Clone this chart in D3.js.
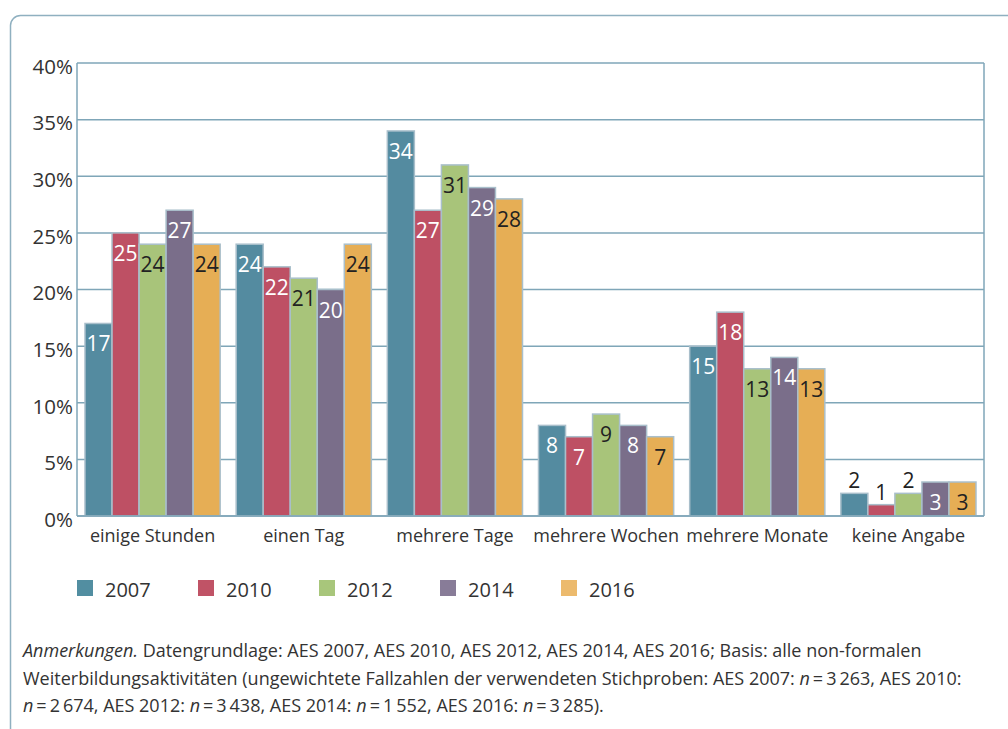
<!DOCTYPE html>
<html>
<head>
<meta charset="utf-8">
<script src="https://cdn.jsdelivr.net/npm/d3@7"></script>
<style>
  body { margin: 0; background: #fff; }
  svg { display: block; font-family: "Open Sans", sans-serif; }
</style>
</head>
<body>
<svg id="chart" width="1008" height="729"></svg>
<script>
const categories = ['einige Stunden', 'einen Tag', 'mehrere Tage', 'mehrere Wochen', 'mehrere Monate', 'keine Angabe'];
const years = ['2007', '2010', '2012', '2014', '2016'];
const values2007 = [17, 24, 34, 8, 15, 2];
const values2010 = [25, 22, 27, 7, 18, 1];
const values2012 = [24, 21, 31, 9, 13, 2];
const values2014 = [27, 20, 29, 8, 14, 3];
const values2016 = [24, 24, 28, 7, 13, 3];
const yTicks = [0, 5, 10, 15, 20, 25, 30, 35, 40];

const series = [values2007, values2010, values2012, values2014, values2016];
const colors = ['#548ba0', '#be5064', '#a8c47a', '#7a6e8a', '#e6ae55'];
const legendColors = ['#528ea1', '#c05366', '#a8c67b', '#887c98', '#ecba6d'];
const labelColors = ['#fff', '#fff', '#222', '#fff', '#222'];
const lineColor = '#7fa6b8';

const svg = d3.select('#chart');
const margin = { top: 63, right: 24, bottom: 213, left: 77 };
const width = 1008 - margin.left - margin.right;
const height = 729 - margin.top - margin.bottom;

// outer frame, open to the right and bottom
svg.append('rect')
  .attr('x', 10.5).attr('y', 15.5)
  .attr('width', 1030).attr('height', 760)
  .attr('rx', 10)
  .attr('fill', 'none')
  .attr('stroke', '#8fb0c0')
  .style('stroke-width', 1.5);

const g = svg.append('g').attr('transform', `translate(${margin.left},${margin.top})`);

const x0 = d3.scaleBand().domain(categories).range([0, width]);
const x1 = d3.scaleBand().domain(years).range([8, x0.bandwidth() - 8]);
const y = d3.scaleLinear().domain([0, 40]).range([height, 0]);

/** gridlines */
g.append('g')
  .selectAll('line')
  .data(yTicks)
  .join('line')
  .attr('x1', 0).attr('x2', width)
  .attr('y1', d => y(d)).attr('y2', d => y(d))
  .attr('stroke', lineColor)
  .style('stroke-width', 1.5);

/** y axis labels */
const yAxis = g.append('g')
  .call(d3.axisLeft(y).tickValues(yTicks).tickSize(0).tickPadding(4).tickFormat(d => d + '%'));
yAxis.select('.domain').remove();
yAxis.selectAll('text')
  .attr('font-family', '"Open Sans", sans-serif')
  .attr('font-size', 20.5)
  .attr('fill', '#333')
  .attr('dy', '0.5em');

/** bars */
const groups = g.append('g')
  .selectAll('g')
  .data(categories)
  .join('g')
  .attr('transform', d => `translate(${x0(d)},0)`);

groups.selectAll('rect')
  .data((c, i) => years.map((yr, j) => ({ yr, j, v: series[j][i] })))
  .join('rect')
  .attr('x', d => x1(d.yr))
  .attr('width', x1.bandwidth())
  .attr('y', d => y(d.v))
  .attr('height', d => y(0) - y(d.v))
  .attr('fill', d => colors[d.j])
  .attr('stroke', '#a9bfcb')
  .style('stroke-width', 1.5);

groups.selectAll('text')
  .data((c, i) => years.map((yr, j) => ({ yr, j, v: series[j][i] })))
  .join('text')
  .attr('x', d => x1(d.yr) + x1.bandwidth() / 2)
  .attr('y', d => d.v < 3 ? y(d.v) - 5 : y(d.v) + 28)
  .attr('text-anchor', 'middle')
  .attr('font-size', 21)
  .attr('fill', d => d.v < 3 ? '#222' : labelColors[d.j])
  .text(d => d.v);

/** plot border */
g.append('line')
  .attr('x1', 0).attr('x2', 0).attr('y1', 0).attr('y2', height)
  .attr('stroke', lineColor).style('stroke-width', 1.5);
g.append('line')
  .attr('x1', width).attr('x2', width).attr('y1', 0).attr('y2', height)
  .attr('stroke', lineColor).style('stroke-width', 1.5);
g.append('line')
  .attr('x1', 0).attr('x2', width).attr('y1', height).attr('y2', height)
  .attr('stroke', lineColor).style('stroke-width', 1.5);

/** category labels */
const xAxis = g.append('g')
  .attr('transform', `translate(0,${height})`)
  .call(d3.axisBottom(x0).tickSize(0));
xAxis.select('.domain').remove();
xAxis.selectAll('text')
  .attr('y', 26)
  .attr('dy', 0)
  .attr('font-family', '"Open Sans", sans-serif')
  .attr('font-size', 18)
  .attr('fill', '#333');

/** legend */
const legend = svg.append('g').attr('transform', 'translate(77,580)');
const item = legend.selectAll('g')
  .data(years)
  .join('g')
  .attr('transform', (d, i) => `translate(${i * 121},0)`);
item.append('rect')
  .attr('width', 16).attr('height', 16)
  .attr('fill', (d, i) => legendColors[i]);
item.append('text')
  .attr('x', 28).attr('y', 17)
  .attr('font-size', 20)
  .attr('fill', '#333')
  .text(d => d);

/** note */
const noteLines = [
  [['Anmerkungen.', true], [' Datengrundlage: AES 2007, AES 2010, AES 2012, AES 2014, AES 2016; Basis: alle non-formalen', false]],
  [['Weiterbildungsaktivitäten (ungewichtete Fallzahlen der verwendeten Stichproben: AES 2007: ', false], ['n', true], ['\u2009=\u20093\u2009263, AES 2010:', false]],
  [['n', true], ['\u2009=\u20092\u2009674, AES 2012: ', false], ['n', true], ['\u2009=\u20093\u2009438, AES 2014: ', false], ['n', true], ['\u2009=\u20091\u2009552, AES 2016: ', false], ['n', true], ['\u2009=\u20093\u2009285).', false]]
];
const note = svg.append('g');
noteLines.forEach((parts, i) => {
  const t = note.append('text')
    .attr('x', 23).attr('y', 657 + i * 27.5)
    .attr('font-size', 18)
    .attr('fill', '#333');
  parts.forEach(p => {
    t.append('tspan')
      .attr('font-style', p[1] ? 'italic' : 'normal')
      .text(p[0]);
  });
});
</script>
</body>
</html>
